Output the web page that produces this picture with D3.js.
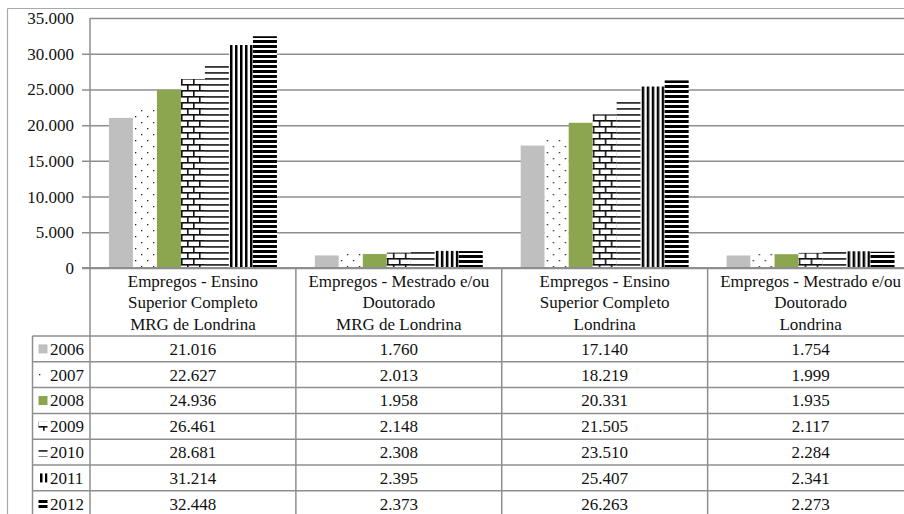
<!DOCTYPE html>
<html><head><meta charset="utf-8">
<script src="https://cdn.jsdelivr.net/npm/d3@7"></script>
<style>body{margin:0;background:#fff}svg{display:block}</style>
</head><body>
<svg id="c" width="904" height="514"></svg>
<script>
// ---- data ----
const categories = ["MRG-Superior", "MRG-Mestrado", "LDA-Superior", "LDA-Mestrado"];
const categoryLabels = [
  ["Empregos - Ensino", "Superior Completo", "MRG de Londrina"],
  ["Empregos - Mestrado e/ou", "Doutorado", "MRG de Londrina"],
  ["Empregos - Ensino", "Superior Completo", "Londrina"],
  ["Empregos - Mestrado e/ou", "Doutorado", "Londrina"]
];
const years = ["2006", "2007", "2008", "2009", "2010", "2011", "2012"];
const v2006 = [21016, 1760, 17140, 1754];
const v2007 = [22627, 2013, 18219, 1999];
const v2008 = [24936, 1958, 20331, 1935];
const v2009 = [26461, 2148, 21505, 2117];
const v2010 = [28681, 2308, 23510, 2284];
const v2011 = [31214, 2395, 25407, 2341];
const v2012 = [32448, 2373, 26263, 2273];
const yTicks = [0, 5000, 10000, 15000, 20000, 25000, 30000, 35000];
const seriesValues = [v2006, v2007, v2008, v2009, v2010, v2011, v2012];

// ---- layout ----
const svg = d3.select("#c");
const FONT = '"Liberation Serif", "Times New Roman", serif';
const FS = "17px";
const fmt = v => d3.format(",")(v).replace(/,/g, ".");
const gridC = "#8e8e8e";

const plotLeft = 90, plotRight = 913.5, plotTop = 18, plotBottom = 268;
const tableTop = 336, rowH = 25.8;

const y = d3.scaleLinear().domain([0, 35000]).range([plotBottom, plotTop]);
const x0 = d3.scaleBand().domain(categories).range([plotLeft, plotRight]).padding(0);
const x1 = d3.scaleBand().domain(years).range([0, x0.bandwidth()]).paddingInner(0).paddingOuter(0.79);
const rows = d3.scaleBand().domain(years).range([tableTop, tableTop + rowH * years.length]);

// ---- patterns ----
const defs = svg.append("defs");
function pat(id, w, h, draw) {
  const p = defs.append("pattern").attr("id", id).attr("patternUnits", "userSpaceOnUse")
    .attr("width", w).attr("height", h);
  p.append("rect").attr("width", w).attr("height", h).attr("fill", "#fff");
  draw(p);
}
pat("p2007", 12, 12, p => {
  p.append("rect").attr("x", 3).attr("y", 2).attr("width", 1.3).attr("height", 1.3).attr("fill", "#222");
  p.append("rect").attr("x", 9).attr("y", 8).attr("width", 1.3).attr("height", 1.3).attr("fill", "#222");
});
pat("p2009", 12, 12, p => {
  p.append("rect").attr("x", 0).attr("y", 0).attr("width", 12).attr("height", 1.6).attr("fill", "#111");
  p.append("rect").attr("x", 0).attr("y", 6).attr("width", 12).attr("height", 1.6).attr("fill", "#111");
  p.append("rect").attr("x", 1).attr("y", 0).attr("width", 1.6).attr("height", 6).attr("fill", "#111");
  p.append("rect").attr("x", 7).attr("y", 6).attr("width", 1.6).attr("height", 6).attr("fill", "#111");
});
pat("p2010", 6, 6, p => {
  p.append("rect").attr("x", 0).attr("y", 0).attr("width", 6).attr("height", 1.8).attr("fill", "#333");
});
pat("p2011", 5, 5, p => {
  p.append("rect").attr("x", 0).attr("y", 0).attr("width", 2.5).attr("height", 5).attr("fill", "#000");
});
pat("p2012", 5, 5, p => {
  p.append("rect").attr("x", 0).attr("y", 0).attr("width", 5).attr("height", 3).attr("fill", "#000");
});
const fills = ["#bfbfbf", "url(#p2007)", "#8ca64f", "url(#p2009)", "url(#p2010)", "url(#p2011)", "url(#p2012)"];
const color = d3.scaleOrdinal().domain(years).range(fills);

// ---- outer frame ----
svg.append("line").attr("x1", 7.5).attr("x2", 904).attr("y1", 8.5).attr("y2", 8.5).attr("stroke", "#a9a9a9").attr("stroke-width", 1.2);
svg.append("line").attr("x1", 7.5).attr("x2", 7.5).attr("y1", 8.5).attr("y2", 514).attr("stroke", "#a9a9a9").attr("stroke-width", 1.2);

// ---- grid + y axis ----
const yAxis = d3.axisLeft(y).tickValues(yTicks).tickSize(-(plotRight - plotLeft)).tickFormat(fmt).tickPadding(16);
const gy = svg.append("g").attr("transform", `translate(${plotLeft},0)`).call(yAxis);
gy.select(".domain").remove();
gy.selectAll(".tick line").attr("stroke", gridC).attr("stroke-width", 1.5)
  .attr("x1", d => d === 35000 ? 0 : -8);
gy.selectAll(".tick text").style("font-family", FONT).style("font-size", FS).attr("fill", "#111");

// ---- bars ----
const groups = svg.append("g").selectAll("g").data(categories).join("g")
  .attr("transform", d => `translate(${x0(d)},0)`);
groups.selectAll("rect").data((c, ci) => years.map((yr, si) => ({ yr, v: seriesValues[si][ci] })))
  .join("rect")
  .attr("x", d => x1(d.yr)).attr("width", x1.bandwidth())
  .attr("y", d => y(d.v)).attr("height", d => y(0) - y(d.v))
  .attr("fill", d => color(d.yr));

// ---- table lines ----
const tbl = svg.append("g").attr("stroke", gridC).attr("stroke-width", 1.5);
tbl.append("line").attr("x1", plotLeft - 8).attr("x2", 904).attr("y1", y(0)).attr("y2", y(0)).attr("stroke-width", 2);
tbl.append("line").attr("x1", plotLeft).attr("x2", plotLeft).attr("y1", plotTop).attr("y2", 514);
categories.slice(1).forEach(c => tbl.append("line").attr("x1", x0(c)).attr("x2", x0(c)).attr("y1", y(0)).attr("y2", 514));
tbl.append("line").attr("x1", 32.5).attr("x2", 32.5).attr("y1", tableTop).attr("y2", 514);
years.forEach(yr => tbl.append("line").attr("x1", 32.5).attr("x2", 904).attr("y1", rows(yr)).attr("y2", rows(yr)));

// ---- category header labels ----
const lineY = [281, 302, 324];
const hdr = svg.append("g").attr("fill", "#111").attr("text-anchor", "middle");
categories.forEach((c, ci) => {
  categoryLabels[ci].forEach((t, li) => {
    hdr.append("text").attr("x", x0(c) + x0.bandwidth() / 2).attr("y", lineY[li]).attr("dy", "0.35em")
      .style("font-family", FONT).style("font-size", FS).text(t);
  });
});

// ---- table values and legend ----
const body = svg.append("g").attr("fill", "#111");
years.forEach((yr, si) => {
  const cy = rows(yr) + rows.bandwidth() / 2;
  body.append("rect").attr("x", 38.5).attr("y", cy - 4.5).attr("width", 9).attr("height", 9).attr("fill", color(yr));
  body.append("text").attr("x", 50).attr("y", cy).attr("dy", "0.35em")
    .style("font-family", FONT).style("font-size", FS).text(yr);
  categories.forEach((c, ci) => {
    body.append("text").attr("x", x0(c) + x0.bandwidth() / 2).attr("y", cy).attr("dy", "0.35em")
      .attr("text-anchor", "middle").style("font-family", FONT).style("font-size", FS)
      .text(fmt(seriesValues[si][ci]));
  });
});
</script>
</body></html>
